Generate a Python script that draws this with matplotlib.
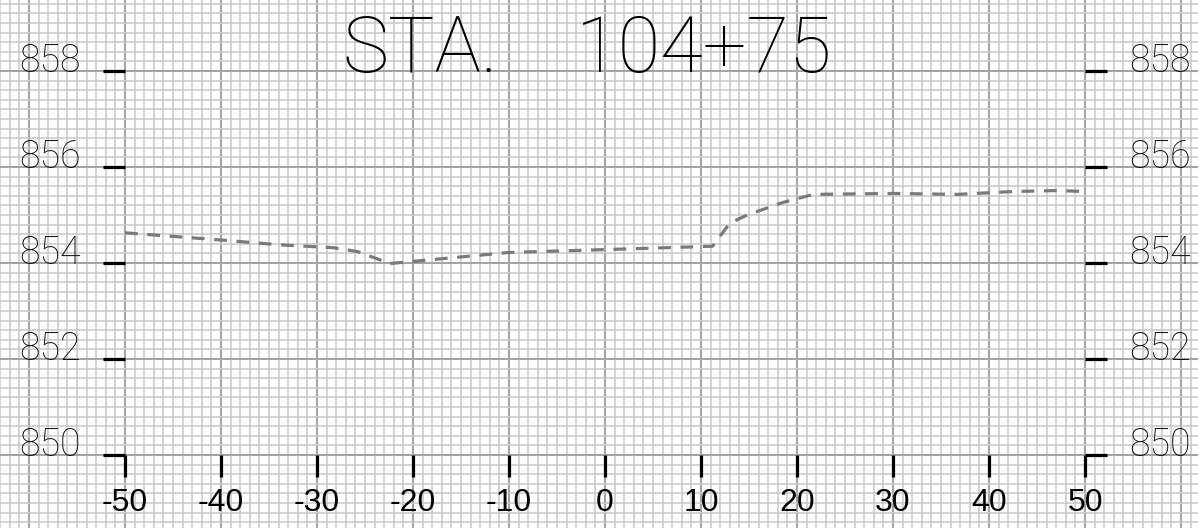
import numpy as np
import matplotlib
matplotlib.use("Agg")
import matplotlib.pyplot as plt
from matplotlib.ticker import MultipleLocator

# ground profile (offset, elevation)
offsets = [-50, -40, -33.9, -28.3, -25.8, -22.4, -10, 0, 11.2, 13.0, 14.8, 18.5, 21.7, 30, 36.7, 42.5, 47.1, 50]
elevs = [854.63, 854.48, 854.38, 854.32, 854.24, 853.99, 854.22, 854.28, 854.35, 854.83, 855.0, 855.26, 855.43, 855.45, 855.43, 855.49, 855.51, 855.49]

xtick_vals = [-50, -40, -30, -20, -10, 0, 10, 20, 30, 40, 50]
ytick_vals = [850, 852, 854, 856, 858]
title_left = "STA."
title_right = "104+75"

fig = plt.figure(figsize=(11.98, 5.28), dpi=100)
ax = fig.add_axes([0, 0, 1, 1])
ax.set_xlim(-63.02, 61.77)
ax.set_ylim(848.48, 859.48)

# graph paper
ax.xaxis.set_major_locator(MultipleLocator(10))
ax.xaxis.set_minor_locator(MultipleLocator(1))
ax.yaxis.set_major_locator(MultipleLocator(2))
ax.yaxis.set_minor_locator(MultipleLocator(0.2))
ax.grid(which="major", color="#a4a4a4", lw=1.5)
ax.grid(which="minor", color="#c8c8c8", lw=1.1)
ax.tick_params(which="both", length=0, labelbottom=False, labelleft=False)
ax.set_axisbelow(True)
for s in ax.spines.values():
    s.set_visible(False)

# profile line
ax.plot(offsets, elevs, color="#7a7a7a", lw=2.3, dashes=(4, 3), zorder=3)

# tick marks
tlx = 2.3    # tick length in x units
tly = 0.46   # tick length in y units
x0, x1 = xtick_vals[0], xtick_vals[-1]
y0 = ytick_vals[0]
for y in ytick_vals:
    ax.plot([x0 - tlx, x0], [y, y], color="black", lw=2.3, zorder=4, solid_capstyle="butt")
    ax.plot([x1, x1 + tlx], [y, y], color="black", lw=2.3, zorder=4, solid_capstyle="butt")
    ax.text(x0 - 4.58, y - 0.02, str(y), ha="right", va="baseline", fontsize=27,
            family="Roboto", fontweight="light", color="#111111")
    ax.text(x1 + 4.58, y - 0.02, str(y), ha="left", va="baseline", fontsize=27,
            family="Roboto", fontweight="light", color="#111111")
for x in xtick_vals:
    ax.plot([x, x], [y0, y0 - tly], color="black", lw=2.3, zorder=4, solid_capstyle="butt")
    ax.text(x, y0 - 1.0, str(x), ha="center", va="center", fontsize=23,
            family="Liberation Sans", color="black")

ax.text(-27.4, 857.98, title_left, ha="left", va="baseline", fontsize=56,
        family="Roboto", fontweight="light", color="black")
ax.text(23.65, 857.98, title_right, ha="right", va="baseline", fontsize=56,
        family="Roboto", fontweight="light", color="black")

fig.savefig("out.png", dpi=100)
